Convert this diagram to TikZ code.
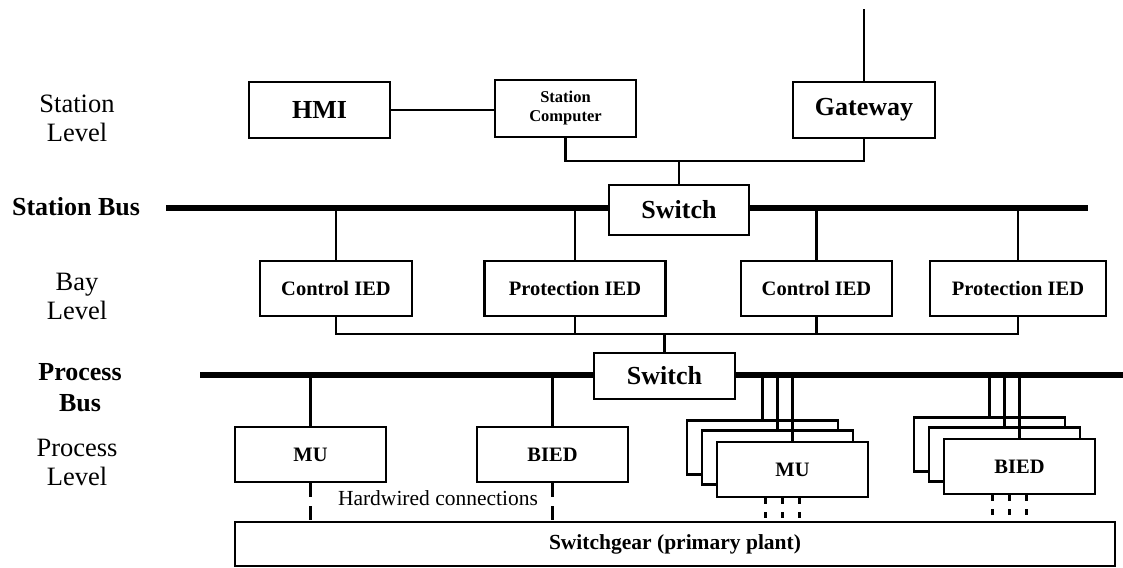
\documentclass[tikz,border=0pt]{standalone}
\usepackage{fontspec}
\setmainfont{Liberation Serif}
\begin{document}
\begin{tikzpicture}[x=1pt,y=-1pt,
    box/.style={draw, line width=2.6pt, fill=white, inner sep=0pt, font=\bfseries\fontsize{20.5}{22}\selectfont},
    bigbox/.style={box, font=\bfseries\fontsize{26}{28}\selectfont},
    bus/.style={line width=6pt},
    link/.style={line width=2.2pt},
    hardwire/.style={link, dash pattern=on 14pt off 9pt},
    shortwire/.style={link, dash pattern=on 6pt off 8pt},
    levellabel/.style={align=center, font=\fontsize{26.5}{29}\selectfont},
    buslabel/.style={align=center, font=\bfseries\fontsize{26}{31}\selectfont}]
    \useasboundingbox (0,0) rectangle (1123,567);

    % Bus ends
    \coordinate (sbL) at (166,208);
    \coordinate (sbR) at (1088,208);
    \coordinate (pbL) at (200,375);
    \coordinate (pbR) at (1123,375);

    % Draw buses
    \draw[bus] (sbL) -- (sbR);
    \draw[bus] (pbL) -- (pbR);

    % Level and bus labels
    \node[levellabel] (stlevel) at (77,118.5) {Station\\Level};
    \node[buslabel] (stbus) at (76,207) {Station Bus};
    \node[levellabel] (baylevel) at (77,296.5) {Bay\\Level};
    \node[buslabel] (prbus) at (80,387.5) {Process\\Bus};
    \node[levellabel] (prlevel) at (77,462) {Process\\Level};

    % Station level
    \node[bigbox, minimum width=141pt, minimum height=56pt] (hmi) at (319.5,110) {HMI};
    \node[box, font=\bfseries\fontsize{16.5}{19}\selectfont, align=center,
          minimum width=141pt, minimum height=57pt] (stpc) at (565.5,108.5) {Station\\Computer};
    \node[bigbox, minimum width=142pt, minimum height=56pt] (gateway) at (864,110) {Gateway};
    \node[bigbox, minimum width=140pt, minimum height=50pt] (stswitch) at (679,210) {Switch};
    \coordinate (wan) at (864,9);
    \coordinate (stjoin) at (679,161);

    \draw[link] (gateway.north) -- (wan);
    \draw[link] (hmi.east) -- (hmi.east -| stpc.west);
    \draw[link] (stpc.south) |- (stjoin) -| (gateway.south);
    \draw[link] (stjoin) -- (stswitch.north);

    % Bay level
    \foreach \name/\txt/\cx/\w in {ctrla/Control IED/336/152, prota/Protection IED/575/181,
                                   ctrlb/Control IED/816.5/151, protb/Protection IED/1018/176} {
        \node[box, minimum width=\w pt, minimum height=55pt] (\name) at (\cx,288.5) {\txt};
        \draw[link] (\name.north |- sbL) -- (\name.north);
    }
    \node[bigbox, minimum width=141pt, minimum height=46pt] (prswitch) at (664.5,376) {Switch};
    \coordinate (bayjoin) at (664.5,334);
    \draw[link] (ctrla.south) |- (bayjoin) -| (protb.south);
    \draw[link] (prota.south) -- (prota.south |- bayjoin);
    \draw[link] (ctrlb.south) -- (ctrlb.south |- bayjoin);
    \draw[link] (bayjoin) -- (prswitch.north);

    % Process level
    \node[box, font=\bfseries\fontsize{21.5}{24}\selectfont, minimum width=880pt, minimum height=44pt]
        (gear) at (675,544) {Switchgear (primary plant)};
    \node[box, minimum width=151pt, minimum height=55pt] (mu) at (310.5,454.5) {MU};
    \node[box, minimum width=151pt, minimum height=55pt] (bied) at (552.5,454.5) {BIED};
    \draw[link] (mu.north |- pbL) -- (mu.north);
    \draw[link] (bied.north |- pbL) -- (bied.north);
    \draw[hardwire] (mu.south) -- (mu.south |- gear.north);
    \draw[hardwire] (bied.south) -- (bied.south |- gear.north);
    \node[font=\fontsize{21.5}{24}\selectfont] (hwlabel) at (438,498) {Hardwired connections};

    % Stacked units
    \foreach \name/\txt/\cx/\cy in {smu/MU/792.5/469.5, sbied/BIED/1019.5/466.5} {
        \node[box, minimum width=151pt, minimum height=54pt] (\name1) at (\cx-30,\cy-22) {};
        \node[box, minimum width=151pt, minimum height=54pt] (\name2) at (\cx-15,\cy-12) {};
        \node[box, minimum width=151pt, minimum height=55pt] (\name) at (\cx,\cy) {\txt};
        \foreach \layer in {\name1,\name2,\name}
            \draw[link] (\layer.north |- pbL) -- (\layer.north);
        \foreach \dx in {-27,-10,7}
            \draw[shortwire] ([xshift=\dx pt]\name.south) -- ([xshift=\dx pt]\name.south |- gear.north);
    }

\end{tikzpicture}
\end{document}
